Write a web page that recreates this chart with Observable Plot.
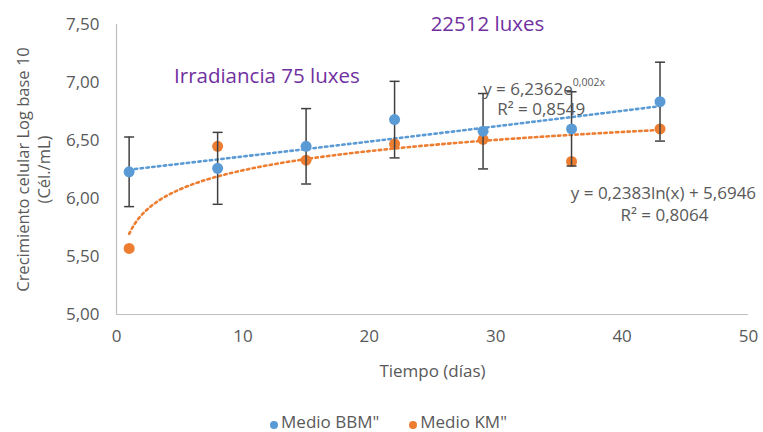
<!DOCTYPE html>
<html><head><meta charset="utf-8">
<script src="https://cdn.jsdelivr.net/npm/d3@7"></script>
<script src="https://cdn.jsdelivr.net/npm/@observablehq/plot@0.6"></script>
<style>
body{margin:0;background:#fff;font-family:"Open Sans",sans-serif;}
#wrap{position:relative;width:763px;height:432px;overflow:hidden;}
#legend{position:absolute;left:0;top:411px;width:763px;display:flex;justify-content:center;gap:30px;font-size:17px;color:#595959;padding-left:14px;box-sizing:border-box;}
#legend span.i{display:flex;align-items:flex-end;gap:3px;line-height:22px;}
#legend span.d{display:inline-block;width:8px;height:8px;border-radius:50%;margin-bottom:4px;}
</style></head><body><div id="wrap"><div id="chart"></div><div id="legend"></div></div><script>
const days = [1, 8, 15, 22, 29, 36, 43];
const bbm = [6.23, 6.26, 6.45, 6.68, 6.58, 6.60, 6.835];
const bbmErr = [0.30, 0.31, 0.325, 0.33, 0.325, 0.32, 0.34];
const km = [5.57, 6.45, 6.33, 6.47, 6.51, 6.32, 6.60];
const expFit = {a: 6.2362, b: 0.002};
const logFit = {a: 0.2383, b: 5.6946};
const xTicks = [0, 10, 20, 30, 40, 50];
const yTicks = [5, 5.5, 6, 6.5, 7, 7.5];
const seriesNames = ['Medio BBM"', 'Medio KM"'];
const colors = ["#5B9BD5", "#ED7D31"];
const notes = [
  {x: 29.35, y: 7.50, text: "22512 luxes", size: 20.5, fill: "#7030A0"},
  {x: 11.9, y: 7.05, text: "Irradiancia 75 luxes", size: 20.5, fill: "#7030A0"},
  {x: 33.6, y: 6.764, text: "R² = 0,8549", size: 17, fill: "#595959"},
  {x: 43.27, y: 6.045, text: "y = 0,2383ln(x) + 5,6946", size: 17, fill: "#595959"},
  {x: 43.35, y: 5.856, text: "R² = 0,8064", size: 17, fill: "#595959"}
];
const expLabel = {x: 36.1, y: 6.943, main: "y = 6,2362e", sup: "0,002x"};

const pts = days.map((d, i) => ({d, bbm: bbm[i], lo: bbm[i] - bbmErr[i], hi: bbm[i] + bbmErr[i], km: km[i]}));
const tx = d3.range(1, 43.001, 0.25);
const expLine = tx.map(x => ({x, y: expFit.a * Math.exp(expFit.b * x)}));
const logLine = tx.map(x => ({x, y: logFit.a * Math.log(x) + logFit.b}));
const fmt = d => d.toFixed(2).replace(".", ",");
const cap = {draw(ctx, size) { const r = Math.sqrt(size / Math.PI); ctx.moveTo(-r, 0); ctx.lineTo(r, 0); }};
const grey = "#595959";

const chart = Plot.plot({
  width: 763, height: 400,
  marginLeft: 116, marginRight: 15, marginTop: 24, marginBottom: 86,
  style: {fontFamily: "Open Sans, sans-serif", fontSize: "17px", color: grey, background: "#fff"},
  x: {domain: [0, 50]},
  y: {domain: [5, 7.5]},
  marks: [
    Plot.ruleX([0], {stroke: "#bfbfbf", strokeWidth: 1.2}),
    Plot.ruleY([5], {stroke: "#bfbfbf", strokeWidth: 1.2}),
    Plot.axisX({ticks: xTicks, tickSize: 0, tickPadding: 15, fill: grey, fontSize: 17, label: "Tiempo (días)", labelAnchor: "center", labelArrow: "none", labelOffset: 62}),
    Plot.axisY({ticks: yTicks, tickSize: 0, tickPadding: 17, tickFormat: fmt, fill: grey, fontSize: 17, label: null}),
    Plot.text(["Crecimiento celular Log base 10\n(Cél./mL)"], {frameAnchor: "left", rotate: -90, textAnchor: "middle", dx: -84, fontSize: 16.5, fill: grey, lineHeight: 1.3}),
    Plot.line(expLine, {x: "x", y: "y", stroke: colors[0], strokeWidth: 2.6, strokeDasharray: "2.4 3.4"}),
    Plot.line(logLine, {x: "x", y: "y", stroke: colors[1], strokeWidth: 2.6, strokeDasharray: "2.4 3.4"}),
    Plot.dot(pts, {x: "d", y: "km", r: 5.5, fill: colors[1]}),
    Plot.ruleX(pts, {x: "d", y1: "lo", y2: "hi", stroke: "#404040", strokeWidth: 1.5}),
    Plot.dot(pts, {x: "d", y: "lo", symbol: cap, r: 5, stroke: "#404040", strokeWidth: 1.5, fill: "none"}),
    Plot.dot(pts, {x: "d", y: "hi", symbol: cap, r: 5, stroke: "#404040", strokeWidth: 1.5, fill: "none"}),
    Plot.dot(pts, {x: "d", y: "bbm", r: 5.5, fill: colors[0]}),
    Plot.text(notes, {x: "x", y: "y", text: "text", fontSize: d => d.size, fill: d => d.fill, textAnchor: "middle"}),
    Plot.text([expLabel], {x: "x", y: "y", text: "main", fontSize: 17, fill: grey, textAnchor: "end"}),
    Plot.text([expLabel], {x: "x", y: "y", text: "sup", fontSize: 10.5, fill: grey, textAnchor: "start", dy: -6})
  ]
});
document.getElementById("chart").appendChild(chart);
const lg = document.getElementById("legend");
seriesNames.forEach((n, i) => {
  const s = document.createElement("span"); s.className = "i";
  s.innerHTML = `<span class="d" style="background:${colors[i]}"></span>${n}`;
  lg.appendChild(s);
});
</script></body></html>
